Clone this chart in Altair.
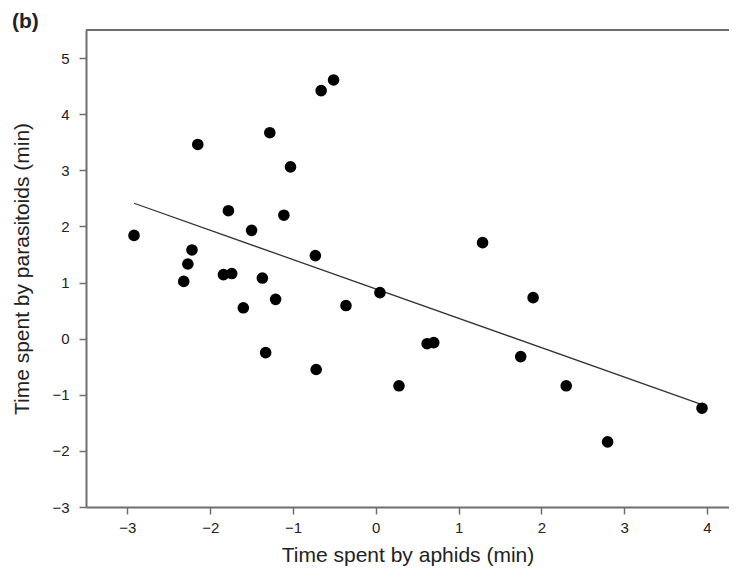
import altair as alt
import pandas as pd

# Time spent by aphids (min)
aphids = [-2.92, -2.22, -2.27, -2.32, -2.15, -1.78, -1.84, -1.74, -1.60, -1.50,
          -1.37, -1.33, -1.28, -1.21, -1.11, -1.03, -0.73, -0.72, -0.66, -0.51,
          -0.36, 0.05, 0.28, 0.62, 0.70, 1.29, 1.75, 1.90, 2.30, 2.80, 3.94]
# Time spent by parasitoids (min)
parasitoids = [1.84, 1.58, 1.33, 1.02, 3.46, 2.28, 1.14, 1.16, 0.55, 1.93,
               1.08, -0.25, 3.67, 0.70, 2.20, 3.06, 1.48, -0.55, 4.42, 4.61,
               0.59, 0.82, -0.84, -0.09, -0.07, 1.71, -0.32, 0.73, -0.84, -1.84, -1.24]

x_ticks = [-3, -2, -1, 0, 1, 2, 3, 4]
y_ticks = [-3, -2, -1, 0, 1, 2, 3, 4, 5]
x_domain = [-3.5, 4.266]
y_domain = [-3, 5.5]

df = pd.DataFrame({"x": aphids, "y": parasitoids})
FONT = "Liberation Sans"
GRAY = "#6e6e6e"

base = alt.Chart(df)

xenc = alt.X("x:Q", scale=alt.Scale(domain=x_domain, nice=False, zero=False),
             axis=alt.Axis(values=x_ticks, title="Time spent by aphids (min)",
                           titlePadding=9, labelPadding=6, grid=False, format="d"))
yenc = alt.Y("y:Q", scale=alt.Scale(domain=y_domain, nice=False, zero=False),
             axis=alt.Axis(values=y_ticks, title="Time spent by parasitoids (min)",
                           titlePadding=19, labelPadding=10, grid=False, format="d"))

points = base.mark_circle(size=135, color="black", opacity=1).encode(x=xenc, y=yenc)

line = base.transform_regression("x", "y").mark_line(
    color="#333333", strokeWidth=1.3
).encode(x="x:Q", y="y:Q")

top = alt.Chart(pd.DataFrame({"t": [y_domain[1]]})).mark_rule(
    color=GRAY, strokeWidth=2
).encode(y=alt.Y("t:Q"))

chart = alt.layer(top, line, points).properties(
    width=643, height=477,
    autosize=alt.AutoSizeParams(type="none"),
    padding={"left": 78, "top": 22, "right": 0, "bottom": 61},
    title=alt.TitleParams("(b)", anchor="start", frame="group", fontSize=21,
                          fontWeight="bold", font=FONT, dx=-74, dy=3, offset=0)
).configure_view(stroke=None).configure_axis(
    domainColor=GRAY, domainWidth=2, tickColor=GRAY, tickWidth=1.5, tickSize=7,
    labelFont=FONT, labelFontSize=15, labelColor="#222222",
    titleFont=FONT, titleFontSize=21, titleFontWeight="normal", titleColor="#222222"
).configure_title(color="#222222")

chart.save("out.html", embed_options={"renderer": "svg", "actions": False})
